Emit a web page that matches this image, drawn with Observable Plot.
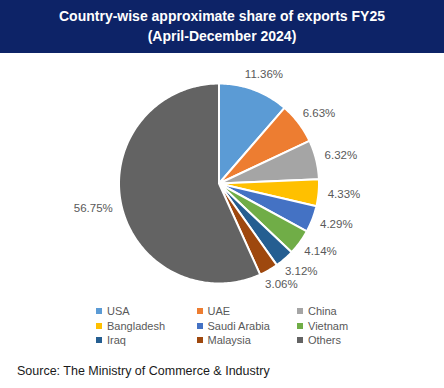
<!DOCTYPE html>
<html><head><meta charset="utf-8">
<script src="https://cdn.jsdelivr.net/npm/d3@7"></script>
<script src="https://cdn.jsdelivr.net/npm/@observablehq/plot@0.6"></script>
<style>
body{margin:0;width:444px;height:388px;background:#fff;font-family:"Liberation Sans",Arial,sans-serif;overflow:hidden;position:relative}
#title{background:#0d2367;color:#fff;font-weight:bold;font-size:14px;line-height:20px;text-align:center;height:53px;box-sizing:border-box;padding-top:6px}
#chart{height:245px}
#chart svg{display:block}
.lg{position:absolute;font-size:11px;color:#595959;line-height:14px;white-space:nowrap}
.lg span.sw{display:inline-block;width:6px;height:6px;margin-right:5px;vertical-align:1px}
#source{position:absolute;left:17px;top:364px;font-size:12.5px;color:#1a1a1a}
</style>
</head><body>
<div id="title">Country-wise approximate share of exports FY25<br>(April-December 2024)</div>
<div id="chart"></div>
<div id="legend"></div>
<div id="source">Source: The Ministry of Commerce &amp; Industry</div>
<script>
const countries = ["USA","UAE","China","Bangladesh","Saudi Arabia","Vietnam","Iraq","Malaysia","Others"];
const shares = [11.36,6.63,6.32,4.33,4.29,4.14,3.12,3.06,56.75];
const colors = ["#5B9BD5","#ED7D31","#A5A5A5","#FFC000","#4472C4","#70AD47","#255E91","#9E480E","#636363"];

const total = d3.sum(shares);
let acc = 0;
const slices = shares.map((v,i)=>{
  const a0 = acc/total*2*Math.PI; acc += v; const a1 = acc/total*2*Math.PI;
  return {country: countries[i], value: v, a0, a1, mid: (a0+a1)/2, label: v.toFixed(2)+"%"};
});
const pts = [];
for (const s of slices) {
  pts.push({country: s.country, x: 0, y: 0});
  const n = Math.max(2, Math.ceil((s.a1-s.a0)/(Math.PI/180)));
  for (let k = 0; k <= n; k++) {
    const a = s.a0 + (s.a1-s.a0)*k/n;
    pts.push({country: s.country, x: Math.sin(a), y: Math.cos(a)});
  }
  pts.push({country: s.country, x: 0, y: 0});
}
const labels = slices.map(s => {
  const hw = s.label.length*3.1/100;
  return {label: s.label, x: (1.1+hw)*Math.sin(s.mid), y: 1.16*Math.cos(s.mid)};
});

const W = 444, H = 245;
const plot = Plot.plot({
  width: W, height: H,
  margin: 0,
  x: {domain: [-2.185, 2.255], axis: null},
  y: {domain: [-1.15, 1.30], axis: null},
  color: {domain: countries, range: colors},
  marks: [
    Plot.line(pts, {x: "x", y: "y", z: "country", fill: "country", stroke: "white", strokeWidth: 2, strokeLinejoin: "round", curve: "linear"}),
    Plot.text(labels, {x: "x", y: "y", text: "label", fill: "#595959", fontSize: 11.5, fontFamily: "'Liberation Sans', Arial, sans-serif", textAnchor: "middle"})
  ]
});
document.getElementById("chart").appendChild(plot);

const legend = document.getElementById("legend");
countries.forEach((c, i) => {
  const col = i % 3, row = Math.floor(i / 3);
  const d = document.createElement("div");
  d.className = "lg";
  d.style.left = (96 + col*100.5) + "px";
  d.style.top = (304 + row*14.5) + "px";
  d.innerHTML = `<span class="sw" style="background:${colors[i]}"></span>${c}`;
  legend.appendChild(d);
});
</script>
</body></html>
